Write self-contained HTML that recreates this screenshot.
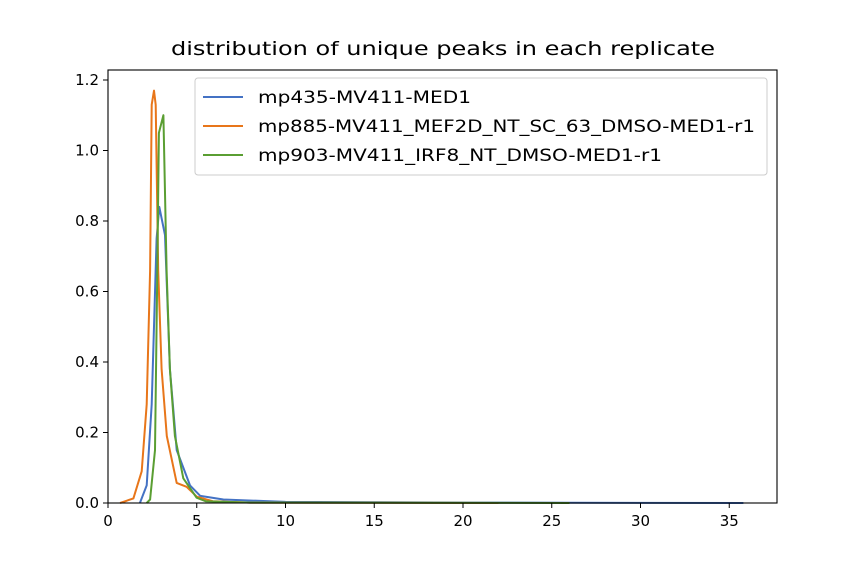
<!DOCTYPE html>
<html><head><meta charset="utf-8"><style>
body{margin:0;background:#fff;}
svg{font-family:"DejaVu Sans","Liberation Sans",sans-serif;}
</style></head><body>
<svg id="chart" width="864" height="576" viewBox="0 0 864 576" xmlns="http://www.w3.org/2000/svg">
<rect width="864" height="576" fill="#fff"/>
<text x="443" y="55" text-anchor="middle" font-size="19" textLength="544" lengthAdjust="spacingAndGlyphs" fill="#000">distribution of unique peaks in each replicate</text>
<g id="plot"></g>
<g id="axes"></g>
<g id="legend"></g>
</svg>
<script>
const xTicks=[0,5,10,15,20,25,30,35];
const yTicks=[0.0,0.2,0.4,0.6,0.8,1.0,1.2];
const yTickLabels=["0.0","0.2","0.4","0.6","0.8","1.0","1.2"];
const seriesNames=["mp435-MV411-MED1","mp885-MV411_MEF2D_NT_SC_63_DMSO-MED1-r1","mp903-MV411_IRF8_NT_DMSO-MED1-r1"];
const seriesColors=["#4472c4","#e8761a","#5a9e32"];
const blueX=[1.8,2.18,2.46,2.74,2.89,3.21,3.49,3.87,4.62,5.2,6.5,10,20,35.8];
const blueY=[0,0.05,0.28,0.75,0.84,0.76,0.38,0.15,0.05,0.02,0.01,0.003,0.001,0];
const orangeX=[0.68,1.43,1.9,2.18,2.37,2.46,2.59,2.69,2.83,3.02,3.31,3.87,4.43,5.0,5.9,8,22];
const orangeY=[0,0.013,0.09,0.28,0.66,1.13,1.17,1.13,0.66,0.38,0.19,0.057,0.046,0.018,0.005,0.001,0];
const greenX=[2.18,2.37,2.65,2.78,2.87,3.12,3.3,3.49,3.77,4.24,4.99,5.5,8,26];
const greenY=[0,0.01,0.15,0.66,1.05,1.1,0.66,0.38,0.19,0.07,0.015,0.005,0.001,0];
const X0=108,X1=777,Y0=503,Y1=70;
const sx=v=>X0+v*17.75;
const sy=v=>Y0-v*352.5;
const NS="http://www.w3.org/2000/svg";
const plot=document.getElementById('plot'),axes=document.getElementById('axes'),legend=document.getElementById('legend');
function mk(t,a,p){const e=document.createElementNS(NS,t);for(const k in a)e.setAttribute(k,a[k]);p.appendChild(e);return e;}
const all=[[blueX,blueY],[orangeX,orangeY],[greenX,greenY]];
all.forEach((s,i)=>{
  const d=s[0].map((x,j)=>(j?'L':'M')+sx(x).toFixed(1)+','+sy(s[1][j]).toFixed(1)).join(' ');
  const p=mk('path',{d:d,fill:'none',stroke:seriesColors[i],'stroke-width':2,'stroke-linejoin':'round'},plot);
  
  
});
const fr=mk('rect',{x:X0,y:Y1,width:X1-X0,height:Y0-Y1,fill:'none',stroke:'#000','stroke-width':1.1},axes);


xTicks.forEach(v=>{
  const x=sx(v);
  mk('line',{x1:x,x2:x,y1:Y0,y2:Y0+5,stroke:'#000'},axes);
  const t=mk('text',{x:x,y:Y0+23,'text-anchor':'middle','font-size':15},axes);
  t.textContent=v;
  
  
});
yTicks.forEach((v,i)=>{
  const y=sy(v);
  mk('line',{x1:X0-5,x2:X0,y1:y,y2:y,stroke:'#000'},axes);
  const t=mk('text',{x:X0-9,y:y+5,'text-anchor':'end','font-size':15},axes);
  t.textContent=yTickLabels[i];
  
  
});
const lb=mk('rect',{x:195,y:78,width:572,height:97,rx:3,fill:'#fff','fill-opacity':0.8,stroke:'#ccc'},legend);


const legendLens=[213,497,404];
seriesNames.forEach((n,i)=>{
  const y=97+i*29;
  const l=mk('line',{x1:203,x2:243,y1:y,y2:y,stroke:seriesColors[i],'stroke-width':2},legend);
  
  
  const t=mk('text',{x:258,y:y+6,'font-size':17,textLength:legendLens[i],lengthAdjust:'spacingAndGlyphs'},legend);
  t.textContent=n;
  
  
});
</script>
</body></html>
